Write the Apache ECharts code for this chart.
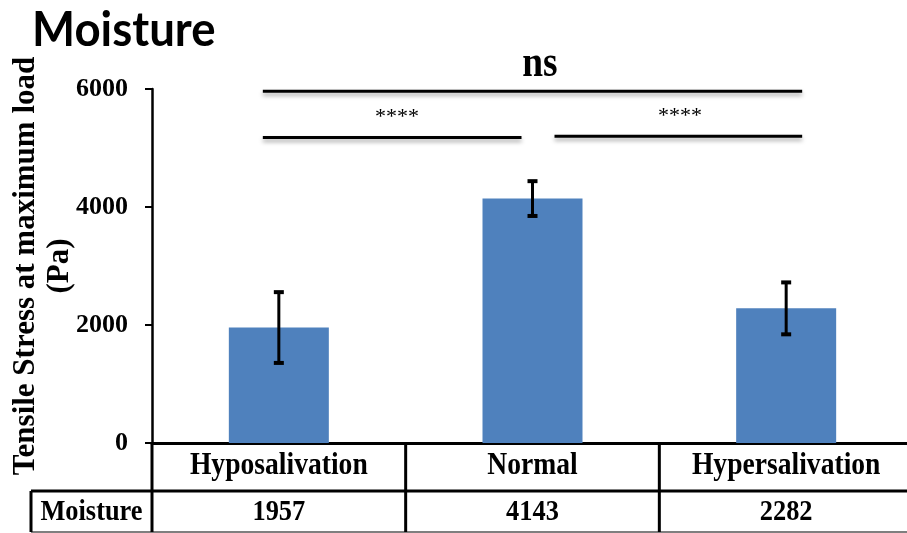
<!DOCTYPE html>
<html>
<head>
<meta charset="utf-8">
<script src="https://cdn.jsdelivr.net/npm/echarts@6/dist/echarts.min.js"></script>
<style>html,body{margin:0;padding:0;background:#fff;}#c{width:907px;height:533px;}</style>
</head>
<body>
<div id="c"></div>
<script>
const chartTitle = 'Moisture';
const categories = ['Hyposalivation', 'Normal', 'Hypersalivation'];
const tensileStress = [1957, 4143, 2282];
const errorMargins = [600, 295, 440];
const rowHeader = 'Moisture';
const yAxisTitle = 'Tensile Stress at maximum load\n(Pa)';
const yMin = 0, yMax = 6000, yStep = 2000;
// significance brackets: [fromIndex, toIndex, label, level (Pa)]
const sigFrom = [0, 0, 1];
const sigTo = [2, 1, 2];
const sigLabels = ['ns', '****', '****'];
const sigLevels = [5960, 5180, 5200];

const serif = '"Liberation Serif", "Times New Roman", serif';
const chart = echarts.init(document.getElementById('c'), null, {renderer: 'canvas'});

const option = {
  animation: false,
  backgroundColor: '#fff',
  grid: {left: 152, top: 89, width: 761, height: 354, containLabel: false, outerBoundsMode: 'none'},
  xAxis: {
    type: 'category',
    data: categories,
    boundaryGap: true,
    axisLine: {show: true, lineStyle: {color: '#000', width: 3}},
    axisTick: {show: false},
    axisLabel: {show: false},
    splitLine: {show: false}
  },
  yAxis: {
    type: 'value',
    min: yMin, max: yMax, interval: yStep,
    name: yAxisTitle,
    nameLocation: 'middle',
    nameRotate: 90,
    nameGap: 75,
    nameMoveOverlap: false,
    nameTextStyle: {fontFamily: serif, fontWeight: 'bold', fontSize: 31, color: '#000', lineHeight: 34, align: 'center'},
    axisLine: {show: true, lineStyle: {color: '#000', width: 2.5}},
    axisTick: {show: true, length: 7, lineStyle: {color: '#000', width: 2}},
    axisLabel: {fontFamily: serif, fontWeight: 'bold', fontSize: 26, color: '#000', margin: 24, formatter: v => String(v)},
    splitLine: {show: false}
  },
  series: [
    {
      type: 'bar',
      data: tensileStress,
      barWidth: 100,
      itemStyle: {color: '#4f81bd'},
      z: 2
    },
    {
      type: 'custom',
      z: 5,
      encode: {x: 0, y: 1},
      data: categories.map((c, i) => [i, tensileStress[i], errorMargins[i]]),
      renderItem: function (params, api) {
        const i = api.value(0), v = api.value(1), e = api.value(2);
        const top = api.coord([i, v + e]);
        const bot = api.coord([i, v - e]);
        const hw = 5;
        const st = {stroke: '#000', lineWidth: 3};
        return {
          type: 'group',
          children: [
            {type: 'line', shape: {x1: top[0], y1: top[1], x2: bot[0], y2: bot[1]}, style: st},
            {type: 'line', shape: {x1: top[0] - hw, y1: top[1], x2: top[0] + hw, y2: top[1]}, style: {stroke: '#000', lineWidth: 4}},
            {type: 'line', shape: {x1: bot[0] - hw, y1: bot[1], x2: bot[0] + hw, y2: bot[1]}, style: {stroke: '#000', lineWidth: 4}}
          ]
        };
      }
    }
  ]
};
chart.setOption(option);

// Build table, title and significance annotations from the axis scales
const px = (i, v) => chart.convertToPixel({gridIndex: 0}, [i, v]);
const centers = categories.map((c, i) => px(i, 0)[0]);
const band = centers[1] - centers[0];
const y0 = px(0, 0)[1];
const row1Bottom = y0 + 48;
const row2Bottom = row1Bottom + 41;
const tableLeft = 31;
const W = 907;
const lineStyle = {stroke: '#000', lineWidth: 3};
const g = [];

// title
g.push({type: 'text', x: 32, y: 31, scaleX: 0.97, style: {text: chartTitle, font: 'bold 47px Lato, "Open Sans", sans-serif', fill: '#000', align: 'left', verticalAlign: 'middle'}});

// table lines
g.push({type: 'line', shape: {x1: tableLeft, y1: row1Bottom, x2: W, y2: row1Bottom}, style: lineStyle});
g.push({type: 'line', shape: {x1: tableLeft, y1: row2Bottom, x2: W, y2: row2Bottom}, style: {stroke: '#555', lineWidth: 1.5}});
g.push({type: 'line', shape: {x1: tableLeft, y1: row1Bottom, x2: tableLeft, y2: row2Bottom}, style: lineStyle});
const leftEdge = centers[0] - band / 2;
g.push({type: 'line', shape: {x1: leftEdge, y1: y0, x2: leftEdge, y2: row2Bottom}, style: lineStyle});
for (let i = 0; i < categories.length - 1; i++) {
  const xe = (centers[i] + centers[i + 1]) / 2;
  g.push({type: 'line', shape: {x1: xe, y1: y0, x2: xe, y2: row2Bottom}, style: lineStyle});
}
// table texts
const row1Mid = (y0 + row1Bottom) / 2 - 1;
const row2Mid = (row1Bottom + row2Bottom) / 2 + 1;
categories.forEach((c, i) => {
  g.push({type: 'text', x: centers[i], y: row1Mid, scaleX: 0.89, style: {text: c, font: 'bold 31px ' + serif, fill: '#000', align: 'center', verticalAlign: 'middle'}});
  g.push({type: 'text', x: centers[i], y: row2Mid, scaleX: 0.88, style: {text: String(tensileStress[i]), font: 'bold 30px ' + serif, fill: '#000', align: 'center', verticalAlign: 'middle'}});
});
g.push({type: 'text', x: (tableLeft + leftEdge) / 2, y: row2Mid, scaleX: 0.88, style: {text: rowHeader, font: 'bold 30px ' + serif, fill: '#000', align: 'center', verticalAlign: 'middle'}});

// significance brackets
const sigStyle = {stroke: '#000', lineWidth: 3, shadowColor: 'rgba(0,0,0,0.35)', shadowBlur: 4, shadowOffsetY: 3};
const startOff = [-16, -16, 22];
const endOff = [16, -11, 16];
sigLabels.forEach((lab, k) => {
  const yy = px(0, sigLevels[k])[1];
  const xa = centers[sigFrom[k]] + startOff[k];
  const xb = centers[sigTo[k]] + endOff[k];
  g.push({type: 'line', shape: {x1: xa, y1: yy, x2: xb, y2: yy}, style: sigStyle});
  if (lab === 'ns') {
    g.push({type: 'text', x: 540, y: yy - 27, scaleX: 0.85, style: {text: lab, font: 'bold 44px ' + serif, fill: '#000', align: 'center', verticalAlign: 'middle'}});
  } else {
    const mid = k === 1 ? 397 : 680;
    g.push({type: 'text', x: mid, y: yy - 20, style: {text: lab, font: '22px ' + serif, fill: '#000', align: 'center', verticalAlign: 'middle'}});
  }
});

chart.setOption({graphic: g});
</script>
</body>
</html>
